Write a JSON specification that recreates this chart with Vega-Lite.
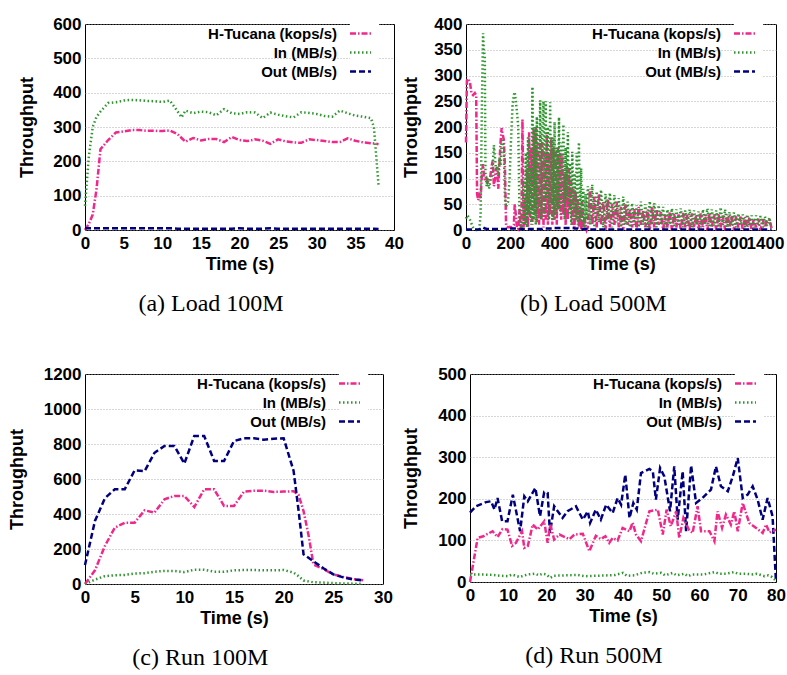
{
  "$schema": "https://vega.github.io/schema/vega-lite/v6.json",
  "padding": {"top": 14, "left": 7, "right": 0, "bottom": 0},
  "background": "white",
  "config": {
    "view": {"stroke": "black", "strokeWidth": 1},
    "axis": {
      "labelFont": "Liberation Sans", "labelFontWeight": "bold", "labelFontSize": 17, "labelColor": "black",
      "titleFont": "Liberation Sans", "titleFontWeight": "bold", "titleFontSize": 18, "titleColor": "black",
      "domain": false, "ticks": false, "labelPadding": 4, "labelOverlap": false, "labelFlush": false, "format": "d"
    },
    "axisX": {"grid": false, "labelPadding": 5, "titlePadding": 4},
    "axisY": {"grid": true, "gridColor": "#9a9a9a", "gridDash": [1, 2], "gridWidth": 0.8, "titlePadding": 13},
    "legend": {"orient": "none", "title": null},
    "title": {"font": "Liberation Serif", "fontSize": 24, "fontWeight": "normal", "color": "black", "orient": "bottom", "anchor": "middle", "frame": "bounds", "offset": 19}
  },
  "datasets": {
    "a": [
      {"t":0,"H":0,"In":70,"Out":5},{"t":0.5,"H":18,"In":215,"Out":5},{"t":1,"H":45,"In":300,"Out":5},{"t":1.5,"H":120,"In":330,"Out":5},
      {"t":2,"H":235,"In":345,"Out":5},{"t":3,"H":262,"In":370,"Out":5},{"t":4,"H":284,"In":372,"Out":5},{"t":5,"H":287,"In":377,"Out":5},
      {"t":6,"H":291,"In":379,"Out":5},{"t":7,"H":291,"In":378,"Out":5},{"t":8,"H":289,"In":376,"Out":5},{"t":9,"H":289,"In":375,"Out":5},
      {"t":10,"H":288,"In":373,"Out":5},{"t":11,"H":290,"In":377,"Out":5},{"t":12,"H":279,"In":345,"Out":4},{"t":12.5,"H":268,"In":328,"Out":4},
      {"t":13,"H":257,"In":348,"Out":4},{"t":14,"H":268,"In":340,"Out":4},{"t":15,"H":261,"In":345,"Out":4},{"t":16,"H":265,"In":343,"Out":4},
      {"t":17,"H":265,"In":334,"Out":4},{"t":18,"H":256,"In":352,"Out":4},{"t":19,"H":271,"In":340,"Out":4},{"t":20,"H":262,"In":338,"Out":5},
      {"t":21,"H":259,"In":343,"Out":4},{"t":22,"H":264,"In":342,"Out":4},{"t":23,"H":260,"In":326,"Out":4},{"t":24,"H":251,"In":342,"Out":5},
      {"t":25,"H":264,"In":336,"Out":4},{"t":26,"H":258,"In":331,"Out":4},{"t":27,"H":255,"In":328,"Out":4},{"t":28,"H":254,"In":343,"Out":4},
      {"t":29,"H":264,"In":341,"Out":4},{"t":30,"H":262,"In":338,"Out":4},{"t":31,"H":259,"In":332,"Out":4},{"t":32,"H":256,"In":330,"Out":4},
      {"t":33,"H":256,"In":348,"Out":4},{"t":34,"H":267,"In":340,"Out":4},{"t":35,"H":260,"In":333,"Out":4},{"t":36,"H":255,"In":330,"Out":4},
      {"t":37,"H":253,"In":326,"Out":4},{"t":37.4,"H":252,"In":300,"Out":4},{"t":38,"H":250,"In":130,"Out":3}
    ],
    "b": [
      {"t":0,"H":170,"In":22,"Out":1},{"t":4,"H":290,"In":28,"Out":1},{"t":10,"H":294,"In":26,"Out":1},{"t":18,"H":286,"In":20,"Out":1},
      {"t":25,"H":265,"In":12,"Out":1},{"t":32,"H":262,"In":5,"Out":1},{"t":40,"H":266,"In":1,"Out":1},{"t":46,"H":262,"In":0,"Out":1},
      {"t":50,"H":70,"In":1,"Out":1},{"t":55,"H":58,"In":3,"Out":1},{"t":60,"H":68,"In":2,"Out":1},{"t":66,"H":62,"In":30,"Out":2},
      {"t":72,"H":110,"In":250,"Out":3},{"t":77,"H":128,"In":382,"Out":5},{"t":81,"H":105,"In":345,"Out":4},{"t":85,"H":98,"In":340,"Out":3},
      {"t":88,"H":96,"In":110,"Out":3},{"t":93,"H":100,"In":85,"Out":2},{"t":98,"H":92,"In":100,"Out":2},{"t":104,"H":95,"In":80,"Out":2},
      {"t":110,"H":105,"In":95,"Out":2},{"t":116,"H":125,"In":105,"Out":2},{"t":121,"H":135,"In":125,"Out":2},{"t":126,"H":85,"In":165,"Out":2},
      {"t":131,"H":100,"In":140,"Out":2},{"t":136,"H":120,"In":115,"Out":2},{"t":141,"H":110,"In":125,"Out":2},{"t":146,"H":80,"In":105,"Out":2},
      {"t":151,"H":130,"In":140,"Out":2},{"t":156,"H":170,"In":125,"Out":2},{"t":161,"H":198,"In":170,"Out":2},{"t":166,"H":185,"In":178,"Out":2},
      {"t":171,"H":175,"In":150,"Out":2},{"t":176,"H":120,"In":60,"Out":2},{"t":181,"H":8,"In":45,"Out":2},{"t":190,"H":5,"In":55,"Out":2},
      {"t":197,"H":6,"In":100,"Out":2},{"t":203,"H":5,"In":170,"Out":3},{"t":210,"H":8,"In":240,"Out":3},{"t":216,"H":10,"In":262,"Out":3},
      {"t":220,"H":50,"In":268,"Out":3},{"t":225,"H":30,"In":250,"Out":3},{"t":230,"H":5,"In":230,"Out":3},{"t":236,"H":2,"In":200,"Out":2},
      {"t":242,"H":40,"In":20,"Out":2},{"t":248,"H":2,"In":0,"Out":2},
      {"t":250,"H":5,"In":5,"Out":2},{"t":255,"H":215,"In":20,"Out":2},{"t":260,"H":5,"In":100,"Out":2},{"t":265,"H":60,"In":10,"Out":2},
      {"t":270,"H":10,"In":150,"Out":2},{"t":275,"H":120,"In":5,"Out":2},{"t":280,"H":5,"In":180,"Out":2},{"t":285,"H":190,"In":30,"Out":2},
      {"t":290,"H":20,"In":120,"Out":2},{"t":295,"H":160,"In":10,"Out":2},{"t":300,"H":10,"In":278,"Out":2},{"t":305,"H":195,"In":20,"Out":2},
      {"t":310,"H":30,"In":200,"Out":2},{"t":315,"H":200,"In":10,"Out":2},{"t":320,"H":15,"In":220,"Out":2},{"t":325,"H":170,"In":40,"Out":2},
      {"t":330,"H":10,"In":120,"Out":2},{"t":335,"H":185,"In":252,"Out":2},{"t":340,"H":20,"In":20,"Out":2},{"t":345,"H":170,"In":200,"Out":2},
      {"t":350,"H":5,"In":250,"Out":3},{"t":355,"H":150,"In":30,"Out":3},{"t":360,"H":20,"In":250,"Out":3},{"t":365,"H":185,"In":60,"Out":3},
      {"t":370,"H":10,"In":200,"Out":3},{"t":375,"H":150,"In":20,"Out":3},{"t":380,"H":30,"In":248,"Out":3},{"t":385,"H":180,"In":50,"Out":3},
      {"t":390,"H":10,"In":180,"Out":3},{"t":395,"H":160,"In":20,"Out":3},{"t":400,"H":20,"In":210,"Out":4},{"t":405,"H":150,"In":30,"Out":4},
      {"t":410,"H":10,"In":160,"Out":4},{"t":415,"H":160,"In":40,"Out":4},{"t":420,"H":40,"In":219,"Out":4},{"t":425,"H":150,"In":30,"Out":4},
      {"t":430,"H":20,"In":170,"Out":4},{"t":435,"H":145,"In":50,"Out":4},{"t":440,"H":30,"In":205,"Out":4},{"t":445,"H":110,"In":20,"Out":4},
      {"t":450,"H":10,"In":160,"Out":4},{"t":455,"H":125,"In":60,"Out":4},{"t":460,"H":20,"In":190,"Out":4},{"t":465,"H":120,"In":30,"Out":4},
      {"t":470,"H":40,"In":130,"Out":4},{"t":475,"H":95,"In":10,"Out":4},{"t":480,"H":10,"In":152,"Out":4},{"t":485,"H":80,"In":40,"Out":4},
      {"t":490,"H":5,"In":110,"Out":3},{"t":495,"H":75,"In":20,"Out":3},{"t":500,"H":20,"In":150,"Out":3},{"t":505,"H":60,"In":10,"Out":3},
      {"t":510,"H":5,"In":170,"Out":2},{"t":515,"H":40,"In":20,"Out":2},{"t":520,"H":0,"In":120,"Out":2},{"t":525,"H":55,"In":10,"Out":2},
      {"t":530,"H":5,"In":80,"Out":2},{"t":535,"H":30,"In":0,"Out":2},{"t":540,"H":10,"In":70,"Out":2},{"t":545,"H":0,"In":20,"Out":2},
      {"t":550,"H":5,"In":85,"Out":1},{"t":560,"H":80,"In":10,"Out":1},{"t":570,"H":10,"In":88,"Out":1},{"t":580,"H":65,"In":5,"Out":1},
      {"t":590,"H":5,"In":75,"Out":1},{"t":600,"H":70,"In":15,"Out":1},{"t":610,"H":10,"In":78,"Out":1},{"t":620,"H":55,"In":5,"Out":1},
      {"t":630,"H":0,"In":70,"Out":1},{"t":640,"H":60,"In":20,"Out":1},{"t":650,"H":5,"In":72,"Out":1},{"t":660,"H":50,"In":5,"Out":1},
      {"t":670,"H":10,"In":68,"Out":1},{"t":680,"H":55,"In":15,"Out":1},{"t":690,"H":5,"In":62,"Out":1},{"t":700,"H":45,"In":5,"Out":1},
      {"t":710,"H":0,"In":65,"Out":1},{"t":720,"H":50,"In":10,"Out":1},{"t":730,"H":10,"In":55,"Out":1},{"t":740,"H":40,"In":5,"Out":1},
      {"t":750,"H":5,"In":52,"Out":1},{"t":760,"H":42,"In":10,"Out":1},{"t":770,"H":0,"In":48,"Out":1},{"t":780,"H":45,"In":5,"Out":1},
      {"t":790,"H":10,"In":55,"Out":1},{"t":800,"H":38,"In":10,"Out":1},{"t":810,"H":5,"In":50,"Out":1},{"t":820,"H":40,"In":5,"Out":1},
      {"t":830,"H":0,"In":56,"Out":1},{"t":840,"H":45,"In":10,"Out":1},{"t":850,"H":5,"In":52,"Out":1},{"t":860,"H":40,"In":5,"Out":1},
      {"t":870,"H":10,"In":48,"Out":1},{"t":880,"H":35,"In":10,"Out":1},{"t":890,"H":0,"In":45,"Out":1},{"t":900,"H":30,"In":5,"Out":1},
      {"t":910,"H":5,"In":40,"Out":1},{"t":920,"H":35,"In":10,"Out":1},{"t":930,"H":0,"In":42,"Out":1},{"t":940,"H":32,"In":5,"Out":1},
      {"t":950,"H":5,"In":40,"Out":1},{"t":960,"H":30,"In":10,"Out":1},{"t":970,"H":0,"In":42,"Out":1},{"t":980,"H":33,"In":5,"Out":1},
      {"t":990,"H":5,"In":38,"Out":1},{"t":1000,"H":30,"In":8,"Out":1},{"t":1010,"H":0,"In":40,"Out":1},{"t":1020,"H":32,"In":5,"Out":1},
      {"t":1030,"H":5,"In":38,"Out":1},{"t":1040,"H":30,"In":10,"Out":1},{"t":1050,"H":0,"In":36,"Out":1},{"t":1060,"H":32,"In":5,"Out":1},
      {"t":1070,"H":5,"In":40,"Out":1},{"t":1080,"H":30,"In":10,"Out":1},{"t":1090,"H":0,"In":42,"Out":1},{"t":1100,"H":33,"In":5,"Out":1},
      {"t":1110,"H":5,"In":40,"Out":1},{"t":1120,"H":30,"In":8,"Out":1},{"t":1130,"H":0,"In":38,"Out":1},{"t":1140,"H":32,"In":5,"Out":1},
      {"t":1150,"H":5,"In":44,"Out":1},{"t":1160,"H":28,"In":10,"Out":1},{"t":1170,"H":0,"In":40,"Out":1},{"t":1180,"H":30,"In":5,"Out":1},
      {"t":1190,"H":5,"In":35,"Out":1},{"t":1200,"H":28,"In":8,"Out":1},{"t":1210,"H":0,"In":34,"Out":1},{"t":1220,"H":27,"In":5,"Out":1},
      {"t":1230,"H":5,"In":32,"Out":1},{"t":1240,"H":26,"In":10,"Out":1},{"t":1250,"H":0,"In":30,"Out":1},{"t":1260,"H":25,"In":5,"Out":1},
      {"t":1270,"H":5,"In":30,"Out":1},{"t":1280,"H":24,"In":8,"Out":1},{"t":1290,"H":0,"In":28,"Out":1},{"t":1300,"H":22,"In":5,"Out":1},
      {"t":1310,"H":5,"In":28,"Out":1},{"t":1320,"H":22,"In":8,"Out":1},{"t":1330,"H":0,"In":27,"Out":1},{"t":1340,"H":21,"In":5,"Out":1},
      {"t":1350,"H":5,"In":26,"Out":1},{"t":1360,"H":20,"In":8,"Out":1},{"t":1370,"H":20,"In":24,"Out":1},{"t":1380,"H":3,"In":4,"Out":1}
    ],
    "c": [
      {"t":0,"H":0,"In":0,"Out":108},{"t":1,"H":78,"In":25,"Out":360},{"t":2,"H":217,"In":45,"Out":490},{"t":3,"H":322,"In":50,"Out":541},
      {"t":4,"H":350,"In":52,"Out":541},{"t":5,"H":350,"In":60,"Out":650},{"t":6,"H":421,"In":62,"Out":645},{"t":7,"H":408,"In":70,"Out":750},
      {"t":8,"H":484,"In":75,"Out":789},{"t":9,"H":503,"In":75,"Out":789},{"t":10,"H":503,"In":68,"Out":688},{"t":11,"H":440,"In":82,"Out":846},
      {"t":12,"H":541,"In":82,"Out":846},{"t":13,"H":541,"In":70,"Out":703},{"t":14,"H":446,"In":70,"Out":703},{"t":15,"H":446,"In":78,"Out":817},
      {"t":16,"H":528,"In":80,"Out":833},{"t":17,"H":533,"In":80,"Out":833},{"t":18,"H":533,"In":78,"Out":825},{"t":19,"H":526,"In":78,"Out":830},
      {"t":20,"H":528,"In":80,"Out":833},{"t":21,"H":530,"In":65,"Out":646},{"t":21.5,"H":510,"In":45,"Out":420},{"t":22,"H":417,"In":20,"Out":170},
      {"t":22.5,"H":280,"In":15,"Out":150},{"t":23,"H":112,"In":10,"Out":130},{"t":24,"H":85,"In":8,"Out":90},{"t":25,"H":55,"In":5,"Out":55},
      {"t":26,"H":40,"In":3,"Out":38},{"t":27,"H":28,"In":2,"Out":26},{"t":28,"H":21,"In":2,"Out":21}
    ],
    "d": [
      {"s":"Out","t":0,"v":167},{"s":"Out","t":1.6,"v":182},{"s":"Out","t":4.2,"v":192},{"s":"Out","t":5.5,"v":194},{"s":"Out","t":6.4,"v":174},
      {"s":"Out","t":7.2,"v":202},{"s":"Out","t":8.4,"v":146},{"s":"Out","t":9.8,"v":146},{"s":"Out","t":11.2,"v":210},{"s":"Out","t":13.1,"v":122},
      {"s":"Out","t":14.2,"v":206},{"s":"Out","t":15.1,"v":194},{"s":"Out","t":17.1,"v":226},{"s":"Out","t":18.3,"v":158},{"s":"Out","t":19.4,"v":216},
      {"s":"Out","t":20.3,"v":214},{"s":"Out","t":20.9,"v":118},{"s":"Out","t":22,"v":182},{"s":"Out","t":24.2,"v":154},{"s":"Out","t":25.5,"v":170},
      {"s":"Out","t":27.7,"v":182},{"s":"Out","t":29.5,"v":150},{"s":"Out","t":30.8,"v":170},{"s":"Out","t":31.4,"v":142},{"s":"Out","t":32.9,"v":174},
      {"s":"Out","t":34.2,"v":150},{"s":"Out","t":35.6,"v":186},{"s":"Out","t":37.3,"v":166},{"s":"Out","t":38.6,"v":202},{"s":"Out","t":39.5,"v":186},
      {"s":"Out","t":40.6,"v":258},{"s":"Out","t":41.7,"v":154},{"s":"Out","t":42.7,"v":190},{"s":"Out","t":43.6,"v":174},{"s":"Out","t":44.7,"v":262},
      {"s":"Out","t":46.9,"v":272},{"s":"Out","t":47.8,"v":266},{"s":"Out","t":48.6,"v":198},{"s":"Out","t":49.7,"v":274},{"s":"Out","t":50.8,"v":254},
      {"s":"Out","t":52.3,"v":170},{"s":"Out","t":53.4,"v":278},{"s":"Out","t":54.3,"v":150},{"s":"Out","t":55.6,"v":266},{"s":"Out","t":56.5,"v":122},
      {"s":"Out","t":57.8,"v":280},{"s":"Out","t":59.1,"v":190},{"s":"Out","t":60.8,"v":202},{"s":"Out","t":63,"v":222},{"s":"Out","t":64.3,"v":278},
      {"s":"Out","t":65.6,"v":230},{"s":"Out","t":67.4,"v":218},{"s":"Out","t":68.7,"v":254},{"s":"Out","t":70,"v":298},{"s":"Out","t":71.3,"v":202},
      {"s":"Out","t":72.6,"v":210},{"s":"Out","t":73.9,"v":230},{"s":"Out","t":75.2,"v":198},{"s":"Out","t":76.5,"v":150},{"s":"Out","t":77.8,"v":202},
      {"s":"Out","t":79.1,"v":158},{"s":"Out","t":80,"v":0},
      {"s":"H","t":0,"v":0},{"s":"H","t":2,"v":106},{"s":"H","t":3.5,"v":110},{"s":"H","t":5.9,"v":122},{"s":"H","t":7.2,"v":108},
      {"s":"H","t":8.5,"v":127},{"s":"H","t":9.8,"v":126},{"s":"H","t":11,"v":87},{"s":"H","t":12,"v":94},{"s":"H","t":13.6,"v":122},
      {"s":"H","t":14.2,"v":82},{"s":"H","t":15.1,"v":86},{"s":"H","t":16.4,"v":138},{"s":"H","t":17.7,"v":126},{"s":"H","t":19.4,"v":146},
      {"s":"H","t":20.3,"v":94},{"s":"H","t":21,"v":138},{"s":"H","t":22,"v":102},{"s":"H","t":23.4,"v":114},{"s":"H","t":26,"v":103},
      {"s":"H","t":27.3,"v":114},{"s":"H","t":29.5,"v":116},{"s":"H","t":31.2,"v":74},{"s":"H","t":32.9,"v":111},{"s":"H","t":34.2,"v":103},
      {"s":"H","t":35.4,"v":110},{"s":"H","t":36.4,"v":94},{"s":"H","t":37.3,"v":106},{"s":"H","t":38.6,"v":100},{"s":"H","t":39.9,"v":130},
      {"s":"H","t":41.7,"v":122},{"s":"H","t":42.5,"v":143},{"s":"H","t":43.4,"v":114},{"s":"H","t":44.7,"v":98},{"s":"H","t":46.9,"v":170},
      {"s":"H","t":49.1,"v":174},{"s":"H","t":50.4,"v":114},{"s":"H","t":51.4,"v":174},{"s":"H","t":52.5,"v":134},{"s":"H","t":53.9,"v":170},
      {"s":"H","t":54.7,"v":106},{"s":"H","t":55.8,"v":154},{"s":"H","t":57.2,"v":126},{"s":"H","t":58.2,"v":118},{"s":"H","t":59.5,"v":182},
      {"s":"H","t":60.4,"v":122},{"s":"H","t":62.6,"v":122},{"s":"H","t":63.9,"v":98},{"s":"H","t":64.7,"v":170},{"s":"H","t":65.9,"v":130},
      {"s":"H","t":66.9,"v":162},{"s":"H","t":68.2,"v":138},{"s":"H","t":69.1,"v":170},{"s":"H","t":70,"v":122},{"s":"H","t":71.3,"v":190},
      {"s":"H","t":73,"v":142},{"s":"H","t":74.8,"v":130},{"s":"H","t":76.5,"v":118},{"s":"H","t":77.4,"v":138},{"s":"H","t":78.3,"v":119},
      {"s":"H","t":80,"v":126},
      {"s":"In","t":0,"v":18},{"s":"In","t":3,"v":18},{"s":"In","t":6,"v":17},{"s":"In","t":8,"v":15},{"s":"In","t":10,"v":14},
      {"s":"In","t":11,"v":18},{"s":"In","t":13,"v":12},{"s":"In","t":15,"v":18},{"s":"In","t":17,"v":20},{"s":"In","t":18,"v":16},
      {"s":"In","t":19,"v":20},{"s":"In","t":20,"v":18},{"s":"In","t":21,"v":10},{"s":"In","t":22,"v":15},{"s":"In","t":25,"v":16},
      {"s":"In","t":28,"v":17},{"s":"In","t":30,"v":14},{"s":"In","t":33,"v":15},{"s":"In","t":36,"v":16},{"s":"In","t":38,"v":17},
      {"s":"In","t":40,"v":22},{"s":"In","t":41,"v":15},{"s":"In","t":43,"v":16},{"s":"In","t":45,"v":22},{"s":"In","t":47,"v":24},
      {"s":"In","t":48,"v":20},{"s":"In","t":50,"v":22},{"s":"In","t":51,"v":16},{"s":"In","t":53,"v":22},{"s":"In","t":54,"v":16},
      {"s":"In","t":56,"v":20},{"s":"In","t":57,"v":14},{"s":"In","t":58,"v":18},{"s":"In","t":61,"v":18},{"s":"In","t":64,"v":24},
      {"s":"In","t":65,"v":20},{"s":"In","t":67,"v":20},{"s":"In","t":69,"v":24},{"s":"In","t":70,"v":20},{"s":"In","t":72,"v":20},
      {"s":"In","t":74,"v":18},{"s":"In","t":75,"v":20},{"s":"In","t":77,"v":14},{"s":"In","t":78,"v":16},{"s":"In","t":79,"v":12},
      {"s":"In","t":80,"v":3}
    ]
  },
  "resolve": {"scale": {"color": "independent", "strokeDash": "independent"}, "legend": {"color": "independent", "strokeDash": "independent"}},
  "columns": 2,
  "align": "none",
  "spacing": {"row": 47, "column": -2},
  "concat": [
    {
      "width": 309, "height": 206,
      "title": "(a) Load 100M",
      "data": {"name": "a"},
      "transform": [{"fold": ["H", "In", "Out"], "as": ["s", "v"]}],
      "mark": {"type": "line", "strokeWidth": 2.5},
      "encoding": {
        "x": {"field": "t", "type": "quantitative", "scale": {"domain": [0, 40], "nice": false}, "axis": {"values": [0,5,10,15,20,25,30,35,40], "title": "Time (s)"}},
        "y": {"field": "v", "type": "quantitative", "scale": {"domain": [0, 600], "nice": false}, "axis": {"values": [0,100,200,300,400,500,600], "title": "Throughput", "titlePadding": 16}},
        "color": {"field": "s", "type": "nominal", "scale": {"domain": ["H","In","Out"], "range": ["#f0288c","#2e952e","#00007f"]}, "legend": {"title": null, "legendX": 265, "legendY": -1, "labelFont": "Liberation Sans", "labelFontWeight": "bold", "labelFontSize": 15, "labelColor": "black", "symbolType": "M-2,0H2", "symbolSize": 110, "symbolStrokeWidth": 2.5, "labelAlign": "right", "labelOffset": -31, "rowPadding": 3, "fillColor": "white", "padding": 3, "labelLimit": 0, "labelExpr": "datum.label == 'H' ? 'H-Tucana (kops/s)' : datum.label == 'In' ? 'In (MB/s)' : 'Out (MB/s)'"}},
        "strokeDash": {"field": "s", "type": "nominal", "scale": {"domain": ["H","In","Out"], "range": [[6,2,1.5,2],[1.5,2.5],[6,3]]}, "legend": {"title": null, "legendX": 265, "legendY": -1, "labelFont": "Liberation Sans", "labelFontWeight": "bold", "labelFontSize": 15, "labelColor": "black", "symbolType": "M-2,0H2", "symbolSize": 110, "symbolStrokeWidth": 2.5, "labelAlign": "right", "labelOffset": -31, "rowPadding": 3, "fillColor": "white", "padding": 3, "labelLimit": 0, "labelExpr": "datum.label == 'H' ? 'H-Tucana (kops/s)' : datum.label == 'In' ? 'In (MB/s)' : 'Out (MB/s)'"}}
      }
    },
    {
      "width": 310, "height": 206,
      "title": "(b) Load 500M",
      "data": {"name": "b"},
      "transform": [{"fold": ["H", "In", "Out"], "as": ["s", "v"]}],
      "mark": {"type": "line", "strokeWidth": 2.5},
      "encoding": {
        "x": {"field": "t", "type": "quantitative", "scale": {"domain": [0, 1400], "nice": false}, "axis": {"values": [0,200,400,600,800,1000,1200,1400], "title": "Time (s)", "labelOffset": {"condition": [{"test": "datum.value == 1400", "value": -11}, {"test": "datum.value == 1200", "value": -3}], "value": 0}}},
        "y": {"field": "v", "type": "quantitative", "scale": {"domain": [0, 400], "nice": false}, "axis": {"values": [0,50,100,150,200,250,300,350,400], "title": "Throughput"}},
        "color": {"field": "s", "type": "nominal", "scale": {"domain": ["H","In","Out"], "range": ["#f0288c","#2e952e","#00007f"]}, "legend": {"title": null, "legendX": 268, "legendY": -1, "labelFont": "Liberation Sans", "labelFontWeight": "bold", "labelFontSize": 15, "labelColor": "black", "symbolType": "M-2,0H2", "symbolSize": 110, "symbolStrokeWidth": 2.5, "labelAlign": "right", "labelOffset": -31, "rowPadding": 3, "fillColor": "white", "padding": 3, "labelLimit": 0, "labelExpr": "datum.label == 'H' ? 'H-Tucana (kops/s)' : datum.label == 'In' ? 'In (MB/s)' : 'Out (MB/s)'"}},
        "strokeDash": {"field": "s", "type": "nominal", "scale": {"domain": ["H","In","Out"], "range": [[6,2,1.5,2],[1.5,2.5],[6,3]]}, "legend": {"title": null, "legendX": 268, "legendY": -1, "labelFont": "Liberation Sans", "labelFontWeight": "bold", "labelFontSize": 15, "labelColor": "black", "symbolType": "M-2,0H2", "symbolSize": 110, "symbolStrokeWidth": 2.5, "labelAlign": "right", "labelOffset": -31, "rowPadding": 3, "fillColor": "white", "padding": 3, "labelLimit": 0, "labelExpr": "datum.label == 'H' ? 'H-Tucana (kops/s)' : datum.label == 'In' ? 'In (MB/s)' : 'Out (MB/s)'"}}
      }
    },
    {
      "width": 298, "height": 210,
      "title": "(c) Run 100M",
      "data": {"name": "c"},
      "transform": [{"fold": ["H", "In", "Out"], "as": ["s", "v"]}],
      "mark": {"type": "line", "strokeWidth": 2.5},
      "encoding": {
        "x": {"field": "t", "type": "quantitative", "scale": {"domain": [0, 30], "nice": false}, "axis": {"values": [0,5,10,15,20,25,30], "title": "Time (s)"}},
        "y": {"field": "v", "type": "quantitative", "scale": {"domain": [0, 1200], "nice": false}, "axis": {"values": [0,200,400,600,800,1000,1200], "title": "Throughput", "titlePadding": 17}},
        "color": {"field": "s", "type": "nominal", "scale": {"domain": ["H","In","Out"], "range": ["#f0288c","#2e952e","#00007f"]}, "legend": {"title": null, "legendX": 254, "legendY": -1, "labelFont": "Liberation Sans", "labelFontWeight": "bold", "labelFontSize": 15, "labelColor": "black", "symbolType": "M-2,0H2", "symbolSize": 110, "symbolStrokeWidth": 2.5, "labelAlign": "right", "labelOffset": -31, "rowPadding": 3, "fillColor": "white", "padding": 3, "labelLimit": 0, "labelExpr": "datum.label == 'H' ? 'H-Tucana (kops/s)' : datum.label == 'In' ? 'In (MB/s)' : 'Out (MB/s)'"}},
        "strokeDash": {"field": "s", "type": "nominal", "scale": {"domain": ["H","In","Out"], "range": [[6,2,1.5,2],[1.5,2.5],[6,3]]}, "legend": {"title": null, "legendX": 254, "legendY": -1, "labelFont": "Liberation Sans", "labelFontWeight": "bold", "labelFontSize": 15, "labelColor": "black", "symbolType": "M-2,0H2", "symbolSize": 110, "symbolStrokeWidth": 2.5, "labelAlign": "right", "labelOffset": -31, "rowPadding": 3, "fillColor": "white", "padding": 3, "labelLimit": 0, "labelExpr": "datum.label == 'H' ? 'H-Tucana (kops/s)' : datum.label == 'In' ? 'In (MB/s)' : 'Out (MB/s)'"}}
      }
    },
    {
      "width": 306, "height": 208,
      "title": "(d) Run 500M",
      "data": {"name": "d"},
      "mark": {"type": "line", "strokeWidth": 2.5},
      "encoding": {
        "x": {"field": "t", "type": "quantitative", "scale": {"domain": [0, 80], "nice": false}, "axis": {"values": [0,10,20,30,40,50,60,70,80], "title": "Time (s)"}},
        "y": {"field": "v", "type": "quantitative", "scale": {"domain": [0, 500], "nice": false}, "axis": {"values": [0,100,200,300,400,500], "title": "Throughput", "titlePadding": 17}},
        "color": {"field": "s", "type": "nominal", "scale": {"domain": ["H","In","Out"], "range": ["#f0288c","#2e952e","#00007f"]}, "legend": {"title": null, "legendX": 265, "legendY": -1, "labelFont": "Liberation Sans", "labelFontWeight": "bold", "labelFontSize": 15, "labelColor": "black", "symbolType": "M-2,0H2", "symbolSize": 110, "symbolStrokeWidth": 2.5, "labelAlign": "right", "labelOffset": -31, "rowPadding": 3, "fillColor": "white", "padding": 3, "labelLimit": 0, "labelExpr": "datum.label == 'H' ? 'H-Tucana (kops/s)' : datum.label == 'In' ? 'In (MB/s)' : 'Out (MB/s)'"}},
        "strokeDash": {"field": "s", "type": "nominal", "scale": {"domain": ["H","In","Out"], "range": [[6,2,1.5,2],[1.5,2.5],[6,3]]}, "legend": {"title": null, "legendX": 265, "legendY": -1, "labelFont": "Liberation Sans", "labelFontWeight": "bold", "labelFontSize": 15, "labelColor": "black", "symbolType": "M-2,0H2", "symbolSize": 110, "symbolStrokeWidth": 2.5, "labelAlign": "right", "labelOffset": -31, "rowPadding": 3, "fillColor": "white", "padding": 3, "labelLimit": 0, "labelExpr": "datum.label == 'H' ? 'H-Tucana (kops/s)' : datum.label == 'In' ? 'In (MB/s)' : 'Out (MB/s)'"}}
      }
    }
  ]
}
